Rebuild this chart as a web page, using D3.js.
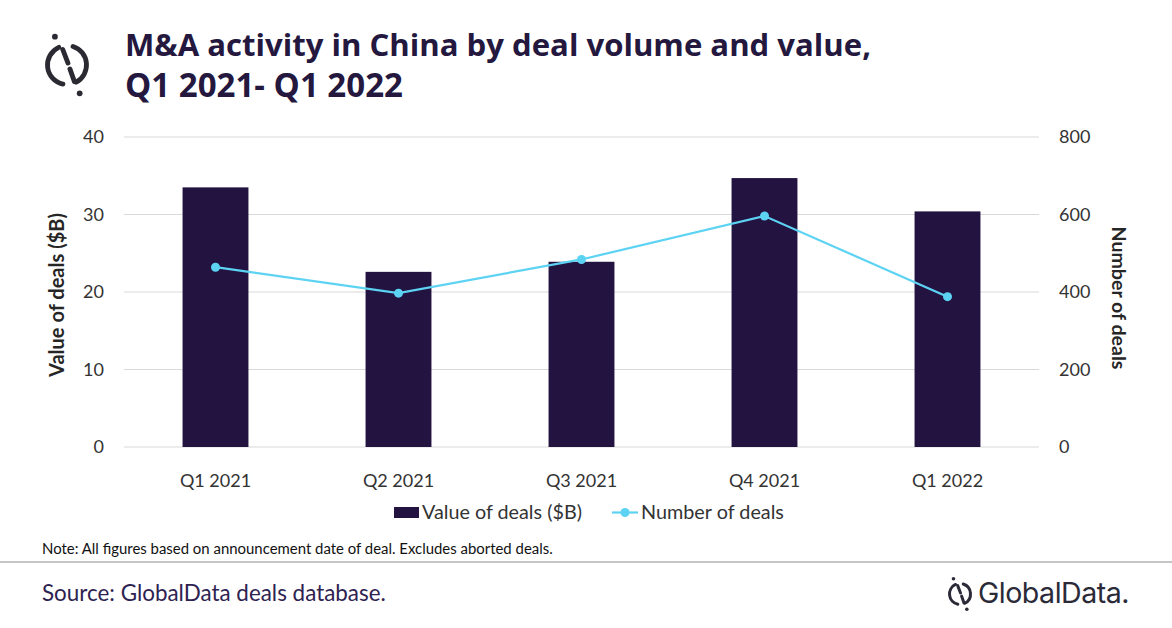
<!DOCTYPE html>
<html>
<head>
<meta charset="utf-8">
<script src="https://cdn.jsdelivr.net/npm/d3@7"></script>
<style>
  html, body { margin: 0; padding: 0; background: #fff; }
  svg { display: block; font-family: Lato, "Open Sans", sans-serif; }
</style>
</head>
<body>
<svg id="chart" width="1172" height="628"></svg>
<script>
// chart data
const quarters = ["Q1 2021", "Q2 2021", "Q3 2021", "Q4 2021", "Q1 2022"];
const dealValues = [33.5, 22.6, 23.9, 34.7, 30.4];   // $B, left axis
const dealCounts = [464, 397, 484, 596, 388];         // right axis
const leftTicks = [0, 10, 20, 30, 40];
const rightTicks = [0, 200, 400, 600, 800];

const barColor = "#231340",
      lineColor = "#5dd3f3",
      titleColor = "#24183f",
      gridColor = "#d9d9d9",
      textColor = "#333333";

const svg = d3.select("#chart");

// shrink or stretch a text's font size so it spans the given width
function fit(sel, w) {
  const len = sel.node().getComputedTextLength();
  const fs = parseFloat(sel.attr("font-size"));
  sel.attr("font-size", (fs * w / len).toFixed(2));
  return sel;
}

// the GlobalData mark: split circle with a broken slash and two dots
function logo(g, cx, cy, r, sw, color) {
  const pt = a => [cx + r * Math.cos(a * Math.PI / 180), cy + r * Math.sin(a * Math.PI / 180)];
  const a1 = pt(-115), a2 = pt(102), b1 = pt(-72), b2 = pt(62);
  const stroke = s => s.attr("fill", "none").attr("stroke", color)
    .attr("stroke-width", sw).attr("stroke-linecap", "round");
  // left arc, counter-clockwise through 9 o'clock
  stroke(g.append("path").attr("d", `M${a1}A${r},${r} 0 0 0 ${a2}`));
  // right arc, clockwise through 3 o'clock
  stroke(g.append("path").attr("d", `M${b1}A${r},${r} 0 0 1 ${b2}`));
  // broken slash
  stroke(g.append("line")
    .attr("x1", cx - r * 0.22).attr("y1", cy - r * 0.8)
    .attr("x2", cx + r * 0.05).attr("y2", cy - r * 0.1));
  stroke(g.append("line")
    .attr("x1", cx + r * 0.15).attr("y1", cy + r * 0.2)
    .attr("x2", cx + r * 0.38).attr("y2", cy + r * 0.85));
  g.append("circle").attr("cx", cx - r * 0.62).attr("cy", cy - r * 1.45).attr("r", sw * 0.6).attr("fill", color);
  g.append("circle").attr("cx", cx + r * 0.65).attr("cy", cy + r * 1.45).attr("r", sw * 0.6).attr("fill", color);
}

// header
logo(svg.append("g"), 67, 65, 19.5, 4.8, "#2b2a33");

fit(svg.append("text")
  .attr("x", 125).attr("y", 56)
  .attr("font-family", "'Open Sans', sans-serif")
  .attr("font-weight", 700).attr("font-size", 31)
  .attr("fill", titleColor)
  .text("M&A activity in China by deal volume and value,"), 746);

fit(svg.append("text")
  .attr("x", 125).attr("y", 97)
  .attr("font-family", "'Open Sans', sans-serif")
  .attr("font-weight", 700).attr("font-size", 31)
  .attr("fill", titleColor)
  .text("Q1 2021- Q1 2022"), 278);

// plot area
const plotLeft = 124, plotRight = 1039, plotTop = 137, plotBottom = 447;

const x = d3.scaleBand()
  .domain(quarters)
  .range([plotLeft, plotRight])
  .paddingInner(0.64)
  .paddingOuter(0.32);

const yL = d3.scaleLinear().domain([0, 40]).range([plotBottom, plotTop]);
const yR = d3.scaleLinear().domain([0, 800]).range([plotBottom, plotTop]);

// gridlines
svg.append("g")
  .selectAll("line")
  .data(leftTicks)
  .enter().append("line")
  .attr("x1", plotLeft).attr("x2", plotRight)
  .attr("y1", d => yL(d)).attr("y2", d => yL(d))
  .attr("stroke", gridColor).attr("stroke-width", 1.2);

// left axis
const axL = svg.append("g")
  .attr("transform", `translate(${plotLeft - 20},0)`)
  .call(d3.axisLeft(yL).tickValues(leftTicks).tickSize(0).tickPadding(0));
axL.select(".domain").remove();
axL.selectAll("text").attr("font-size", 18).attr("fill", textColor).attr("font-family", "Lato, sans-serif");

// right axis
const axR = svg.append("g")
  .attr("transform", `translate(${plotRight + 20},0)`)
  .call(d3.axisRight(yR).tickValues(rightTicks).tickSize(0).tickPadding(0));
axR.select(".domain").remove();
axR.selectAll("text").attr("font-size", 18).attr("fill", textColor).attr("font-family", "Lato, sans-serif");

// bottom axis
const axB = svg.append("g")
  .attr("transform", `translate(0,${plotBottom})`)
  .call(d3.axisBottom(x).tickSize(0).tickPadding(27));
axB.select(".domain").remove();
axB.selectAll("text").attr("font-size", 18).attr("fill", textColor).attr("font-family", "Lato, sans-serif");

// axis titles
fit(svg.append("text")
  .attr("transform", `translate(64,${(plotTop + plotBottom) / 2 + 3}) rotate(-90)`)
  .attr("text-anchor", "middle")
  .attr("font-weight", 700).attr("font-size", 18)
  .attr("fill", "#262626")
  .text("Value of deals ($B)"), 164);

fit(svg.append("text")
  .attr("transform", `translate(1112,${(plotTop + plotBottom) / 2 + 6}) rotate(90)`)
  .attr("text-anchor", "middle")
  .attr("font-weight", 700).attr("font-size", 18)
  .attr("fill", "#262626")
  .text("Number of deals"), 143);

// bars
svg.append("g")
  .selectAll("rect")
  .data(quarters)
  .enter().append("rect")
  .attr("x", d => x(d))
  .attr("width", x.bandwidth())
  .attr("y", (d, i) => yL(dealValues[i]))
  .attr("height", (d, i) => yL(0) - yL(dealValues[i]))
  .attr("fill", barColor);

// line + markers
const line = d3.line()
  .x((d, i) => x(quarters[i]) + x.bandwidth() / 2)
  .y(d => yR(d));

svg.append("path")
  .datum(dealCounts)
  .attr("d", line)
  .attr("fill", "none")
  .attr("stroke", lineColor)
  .attr("stroke-width", 2.2);

svg.append("g")
  .selectAll("circle")
  .data(dealCounts)
  .enter().append("circle")
  .attr("cx", (d, i) => x(quarters[i]) + x.bandwidth() / 2)
  .attr("cy", d => yR(d))
  .attr("r", 4.5)
  .attr("fill", lineColor);

// legend
const legend = svg.append("g");
legend.append("rect")
  .attr("x", 394).attr("y", 507)
  .attr("width", 25).attr("height", 11)
  .attr("fill", barColor);
fit(legend.append("text")
  .attr("x", 422).attr("y", 519)
  .attr("font-size", 18).attr("fill", textColor)
  .text("Value of deals ($B)"), 160);

legend.append("line")
  .attr("x1", 612).attr("x2", 638)
  .attr("y1", 512.5).attr("y2", 512.5)
  .attr("stroke", lineColor).attr("stroke-width", 2.2);
legend.append("circle")
  .attr("cx", 625).attr("cy", 512.5).attr("r", 4.5)
  .attr("fill", lineColor);
fit(legend.append("text")
  .attr("x", 641).attr("y", 519)
  .attr("font-size", 18).attr("fill", textColor)
  .text("Number of deals"), 143);

// footer
fit(svg.append("text")
  .attr("x", 42).attr("y", 554)
  .attr("font-size", 13).attr("fill", "#111")
  .text("Note: All figures based on announcement date of deal. Excludes aborted deals."), 511);

svg.append("line")
  .attr("x1", 0).attr("x2", 1172)
  .attr("y1", 562).attr("y2", 562)
  .attr("stroke", "#8c8c8c").attr("stroke-width", 1.2);

fit(svg.append("text")
  .attr("x", 42).attr("y", 601)
  .attr("font-size", 20).attr("fill", "#2e2251")
  .text("Source: GlobalData deals database."), 344);

logo(svg.append("g"), 960, 594, 10.5, 3, "#2b2a38");

fit(svg.append("text")
  .attr("x", 978).attr("y", 603)
  .attr("font-family", "Inter, 'Noto Sans', sans-serif")
  .attr("font-size", 24).attr("letter-spacing", -0.5)
  .attr("fill", "#2b2a38")
  .text("GlobalData."), 150);
</script>
</body>
</html>
